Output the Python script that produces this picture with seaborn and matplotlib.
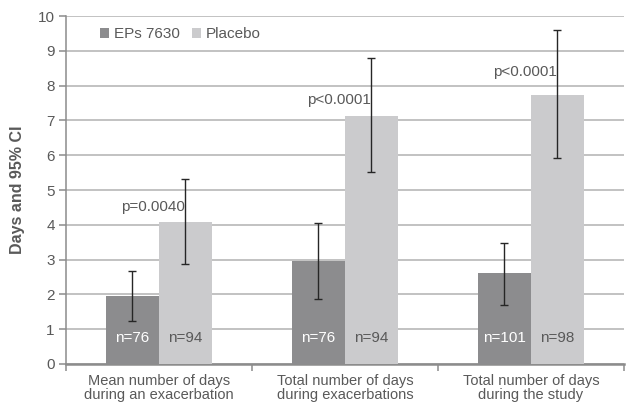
import matplotlib
matplotlib.use("Agg")
import matplotlib.pyplot as plt
from matplotlib.container import BarContainer
import seaborn as sns
import pandas as pd

categories = ["Mean number of days\nduring an exacerbation",
              "Total number of days\nduring exacerbations",
              "Total number of days\nduring the study"]
groups = ["EPs 7630", "Placebo"]
eps_values = [1.96, 2.95, 2.60]
placebo_values = [4.07, 7.14, 7.72]
eps_ci_low = [1.24, 1.88, 1.68]
eps_ci_high = [2.68, 4.04, 3.48]
placebo_ci_low = [2.86, 5.52, 5.92]
placebo_ci_high = [5.32, 8.80, 9.60]
eps_n = ["n=76", "n=76", "n=101"]
placebo_n = ["n=94", "n=94", "n=98"]
p_labels = ["p=0.0040", "p<0.0001", "p<0.0001"]
p_label_y = [4.52, 7.60, 8.40]
yticks = list(range(0, 11))

sns.set_theme(style="white")
plt.rcParams['font.family'] = ['Liberation Sans', 'DejaVu Sans']

df = pd.DataFrame({
    "category": categories * 2,
    "group": [groups[0]] * 3 + [groups[1]] * 3,
    "value": eps_values + placebo_values,
})

dark = "#8c8c8e"
light = "#cbcbcd"
txt = "#595959"

fig = plt.figure(figsize=(6.27, 4.03), dpi=100)
ax = fig.add_axes([0.105, 0.097, 0.89, 0.863])

sns.barplot(data=df, x="category", y="value", hue="group", order=categories,
            hue_order=groups, palette=[dark, light], width=0.57, errorbar=None,
            saturation=1, ax=ax, zorder=3, linewidth=0)

lows = [eps_ci_low, placebo_ci_low]
highs = [eps_ci_high, placebo_ci_high]
vals = [eps_values, placebo_values]
ns = [eps_n, placebo_n]
ncolors = ["white", txt]
bar_conts = [c for c in ax.containers if isinstance(c, BarContainer)]
for gi, cont in enumerate(bar_conts):
    for ci, bar in enumerate(cont.patches):
        xc = bar.get_x() + bar.get_width() / 2
        v = vals[gi][ci]
        ax.errorbar([xc], [v], yerr=[[v - lows[gi][ci]], [highs[gi][ci] - v]],
                    fmt="none", ecolor="#262626", elinewidth=1.0, capsize=2.8,
                    capthick=1.0, zorder=5)
        ax.text(xc, 0.74, ns[gi][ci], ha="center", va="center",
                fontsize=11, color=ncolors[gi], zorder=6)

for ci in range(len(categories)):
    ax.text(ci - 0.03, p_label_y[ci], p_labels[ci], ha="center", va="center",
            fontsize=11, color=txt, zorder=6)

ax.set_ylim(0, 10)
ax.set_xlim(-0.5, 2.5)
ax.set_yticks(yticks)
ax.set_yticklabels([str(t) for t in yticks], fontsize=11, color=txt)
ax.yaxis.grid(True, color="#bdbdbd", linewidth=1.3, zorder=0)
ax.set_axisbelow(True)

ax.set_xticks(range(3))
ax.set_xticklabels(categories, fontsize=10.5, color=txt, linespacing=1.0)
ax.set_xticks([-0.5, 0.5, 1.5, 2.5], minor=True)
ax.tick_params(axis="x", which="major", length=0, pad=7)
ax.tick_params(axis="x", which="minor", length=5, color="#8c8c8c", width=1.1,
               direction="out", bottom=True)
ax.tick_params(axis="y", length=5, color="#8c8c8c", width=1.1, left=True,
               direction="out", pad=3)

ax.set_xlabel("")
ax.set_ylabel("Days and 95% CI", fontsize=11.5, fontweight="bold", color=txt,
              labelpad=9)

for s in ["top", "right"]:
    ax.spines[s].set_visible(False)
ax.spines["left"].set_color("#8c8c8c")
ax.spines["left"].set_linewidth(1.1)
ax.spines["bottom"].set_color("#8c8c8c")
ax.spines["bottom"].set_linewidth(1.8)

leg = ax.legend(loc="upper left", bbox_to_anchor=(0.05, 0.985), ncol=2,
                frameon=False, fontsize=11, handlelength=0.6, handleheight=0.6,
                handletextpad=0.3, columnspacing=0.8, borderaxespad=0)
for t in leg.get_texts():
    t.set_color(txt)

fig.savefig("out.png", dpi=100)
